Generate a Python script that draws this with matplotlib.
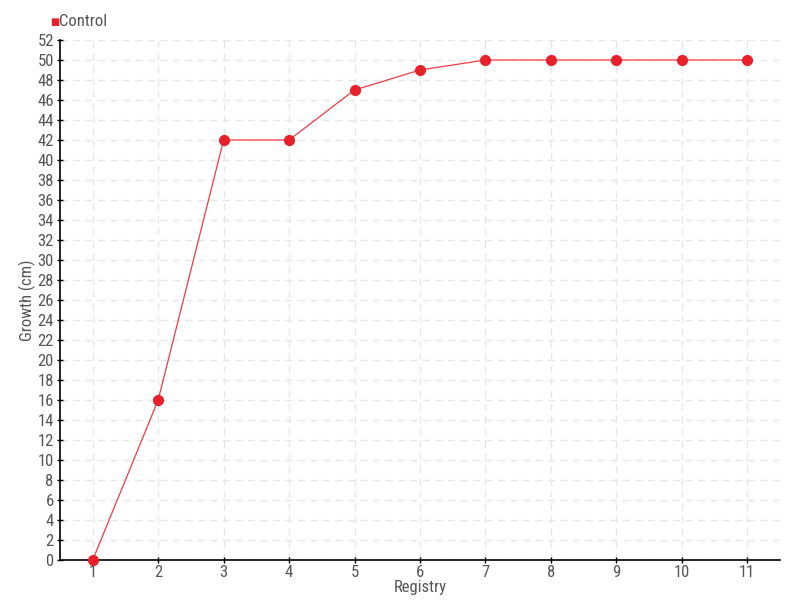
import matplotlib
matplotlib.use("Agg")
import matplotlib.pyplot as plt
from matplotlib import font_manager

registry = [1, 2, 3, 4, 5, 6, 7, 8, 9, 10, 11]
control = [0, 16, 42, 42, 47, 49, 50, 50, 50, 50, 50]
y_ticks = list(range(0, 53, 2))

names = {f.name for f in font_manager.fontManager.ttflist}
fam = [f for f in ["Liberation Sans Narrow", "Roboto Condensed", "Roboto"] if f in names][:1] + ["DejaVu Sans"]
plt.rcParams['font.family'] = fam

fig = plt.figure(figsize=(8, 6), dpi=100)
ax = fig.add_axes([60/800, 40/600, 720/800, 520/600])
red = "#e8202a"
ax.plot(registry, control, color="#f03a44", lw=0.9, zorder=3, clip_on=False)
ax.plot(registry, control, ls='none', marker='o', ms=7, markerfacecolor=red,
        markeredgecolor=red, clip_on=False, zorder=4)
ax.set_xlim(0.5, 11.5)
ax.set_ylim(0, 52)
ax.set_xticks(registry)
ax.set_yticks(y_ticks)
ax.grid(True, color="#e6e6e6", ls=(0, (5, 4)), lw=1)
ax.set_axisbelow(True)
for s in ['top', 'right']:
    ax.spines[s].set_visible(False)
ax.spines['left'].set_linewidth(1.2)
ax.spines['bottom'].set_linewidth(1.2)
ax.tick_params(axis='both', direction='inout', length=5, width=1, labelsize=12,
               labelcolor="#555555", color="black")
ax.tick_params(axis='x', pad=1)
ax.tick_params(axis='y', pad=2)
ax.set_xlabel("Registry", fontsize=12, color="#555555", labelpad=0)
ax.set_ylabel("Growth (cm)", fontsize=12, color="#555555", labelpad=1)
fig.text(50/800, 1 - 22/600, "\u25a0", color=red, fontsize=7, va='center', ha='left', family=["DejaVu Sans"])
fig.text(59/800, 1 - 22/600, "Control", color="#555555", fontsize=12, va='center', ha='left')
fig.savefig("out.png", dpi=100)
